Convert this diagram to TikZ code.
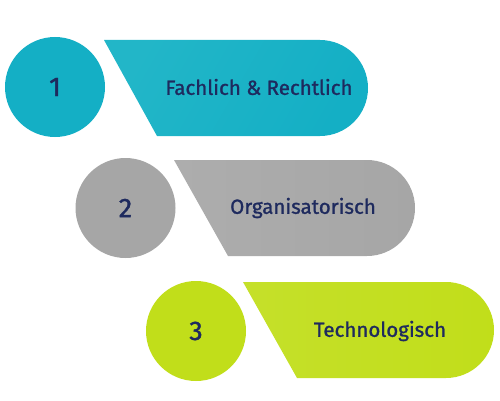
\documentclass[tikz,border=0pt]{standalone}
\usepackage{fontspec}
\setmainfont{Fira Sans}
\newfontfamily\medfont[FakeBold=1.2]{Fira Sans}
\definecolor{teal1}{HTML}{14AFC5}
\definecolor{teal1l}{HTML}{22B6C8}
\definecolor{gray2}{HTML}{A6A6A6}
\definecolor{gray2l}{HTML}{ADADAD}
\definecolor{lime3}{HTML}{C1DE1A}
\definecolor{lime3l}{HTML}{C5E02A}
\definecolor{navy}{HTML}{1E2A5E}
\tikzset{
  numcircle/.style={circle, minimum size=100pt, inner sep=0pt, text=navy, font=\medfont\fontsize{27}{30}\selectfont},
  label/.style={text=navy, font=\medfont\fontsize{20.5}{24}\selectfont},
}
\begin{document}
\begin{tikzpicture}[x=1pt,y=1pt]
\useasboundingbox (0,0) rectangle (500,400);
% Row 1
\shade[left color=teal1l, right color=teal1, shading angle=60]
  (104,360) -- (320,360) arc (90:-90:48) -- (157,264) -- cycle;
\node[numcircle, fill=teal1] (c1) at (55,313) {1};
\node[label] (t1) at (259,313) {Fachlich \& Rechtlich};
% Row 2
\shade[left color=gray2l, right color=gray2]
  (174,240) -- (367,240) arc (90:-90:48) -- (228,144) -- cycle;
\node[numcircle, fill=gray2] (c2) at (125.5,192) {2};
\node[label] (t2) at (303,192) {Organisatorisch};
% Row 3
\shade[left color=lime3l, right color=lime3]
  (243,118) -- (446,118) arc (90:-90:48) -- (297,22) -- cycle;
\node[numcircle, fill=lime3] (c3) at (196,69) {3};
\node[label] (t3) at (380,69) {Technologisch};
\end{tikzpicture}
\end{document}
